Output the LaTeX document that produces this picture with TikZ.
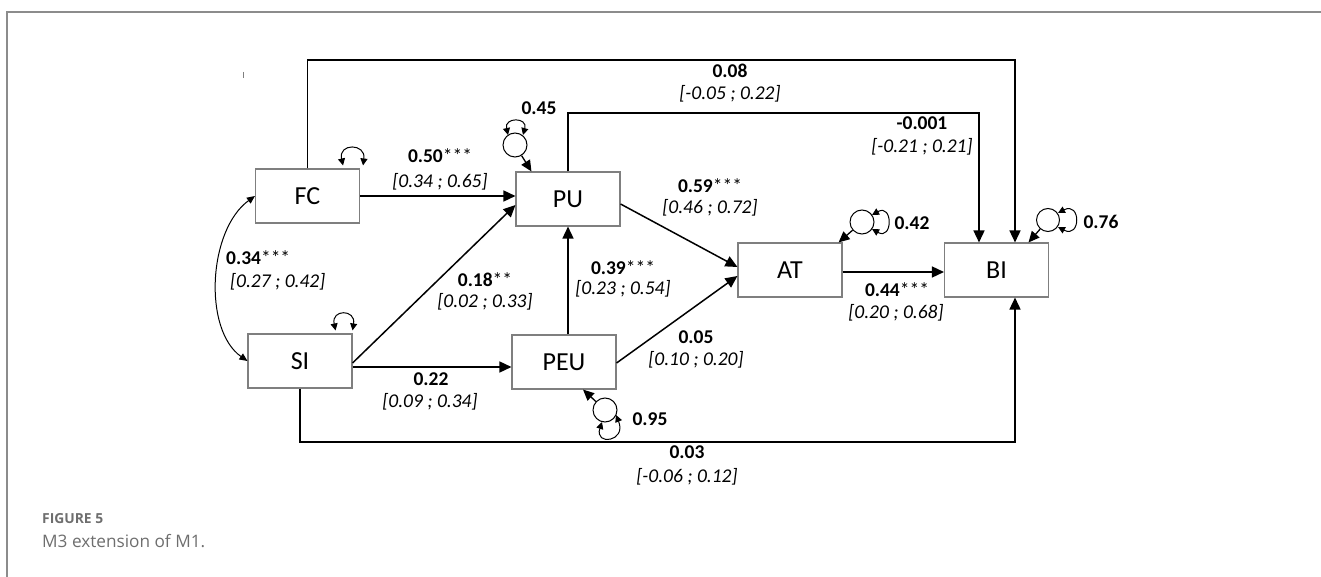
\documentclass[tikz,border=0pt]{standalone}
\usepackage{fontspec}
\setmainfont{Carlito}
\newfontfamily\capfont{Open Sans}
\usetikzlibrary{arrows.meta,calc}
\definecolor{boxgray}{HTML}{7F7F7F}
\definecolor{framegray}{HTML}{8C8C8C}
\definecolor{capgray}{HTML}{6E6E6E}
\begin{document}
\begin{tikzpicture}[x=1pt,y=-1pt,
  box/.style={draw=boxgray,line width=1.1pt,minimum width=104pt,minimum height=54pt,inner sep=0pt,font=\fontsize{26}{30}\selectfont},
  conn/.style={line width=1.5pt,-{Triangle[length=12pt,width=11pt]}},
  lbl/.style={font=\fontsize{19.5}{22}\selectfont,inner sep=0pt},
  ci/.style={font=\fontsize{19.5}{22}\selectfont\itshape,inner sep=0pt},
  resid/.style={draw,line width=1pt,circle,minimum size=24pt,inner sep=0pt},
  loopar/.style={line width=1pt,{Triangle[length=7pt,width=7pt]}-{Triangle[length=7pt,width=7pt]}},
  covar/.style={line width=1pt,{Triangle[length=8pt,width=7pt]}-{Triangle[length=8pt,width=7pt]}},
  resar/.style={line width=1.3pt,-{Triangle[length=11pt,width=10pt]}},
]
\useasboundingbox (0,0) rectangle (1321,577);
% frame
\draw[framegray,line width=1.5pt] (1321,12) -- (7,12) -- (7,577);
\draw[boxgray,line width=0.8pt] (243,72) -- (243,78);

% boxes
\node[box] (FC) at (307.5,196) {FC};
\node[box] (PU) at (568,199) {PU};
\node[box] (SI) at (300,361) {SI};
\node[box] (PEU) at (564,362) {PEU};
\node[box] (AT) at (790,270) {AT};
\node[box] (BI) at (996.5,270) {BI};

% helper coordinates
\coordinate (topy) at (0,60);
\coordinate (puy) at (0,113);
\coordinate (siy) at (0,442);
\coordinate (fcbi) at ($(BI.north)+(18.5,0)$);
\coordinate (pubi) at ($(BI.north)+(-17.5,0)$);
\coordinate (sip) at ($(SI.east)+(0,6)$);

% paths
\draw[conn] (FC.east) -- (FC.east -| PU.west);
\draw[conn] ($(SI.east)+(0,2)$) -- ($(PU.west)+(0,6)$);
\draw[conn] (sip) -- (sip -| PEU.west);
\draw[conn] (PEU.north -| PU.south) -- (PU.south);
\draw[conn] ($(PU.east)+(0,5)$) -- ($(AT.west)+(0,-3)$);
\draw[conn] ($(PEU.east)+(0,1)$) -- ($(AT.west)+(0,6)$);
\draw[conn] ($(AT.east)+(0,2)$) -- ($(BI.west)+(0,2)$);
\draw[conn] (FC.north) -- (FC.north |- topy) -- (fcbi |- topy) -- (fcbi);
\draw[conn] (PU.north) -- (PU.north |- puy) -- (pubi |- puy) -- (pubi);
\draw[conn] (SI.south) -- (SI.south |- siy) -- (fcbi |- siy) -- (fcbi |- BI.south);

% covariance
\draw[covar] (SI.west) .. controls (203,330) and (208,230) .. (FC.west);

% residuals
\draw[loopar] ($(FC.north east)+(-17,-3)$) .. controls (338,143) and (366,143) .. ($(FC.north east)+(3,-3)$);
\draw[loopar] ($(SI.north east)+(-17,-3)$) .. controls (331,309) and (356,309) .. ($(SI.north east)+(0,-3)$);

\node[resid] (rPU) at (515,145) {};
\draw[resar] (rPU) -- ($(PU.north west)+(16,0)$);
\draw[loopar] ($(rPU)+(-7,-10)$) .. controls (504,117) and (528,117) .. ($(rPU)+(8,-10)$);

\node[resid] (rAT) at (862,222) {};
\draw[resar] (rAT) -- ($(AT.north east)+(-4,0)$);
\draw[loopar] ($(rAT)+(10,-7)$) .. controls (893,203) and (893,241) .. ($(rAT)+(10,7)$);

\node[resid,minimum size=23pt] (rBI) at (1048,220) {};
\draw[resar] (rBI) -- ($(BI.north)+(32,0)$);
\draw[loopar] ($(rBI)+(10,-7)$) .. controls (1081,201) and (1081,239) .. ($(rBI)+(10,7)$);

\node[resid] (rPEU) at (605,410) {};
\draw[resar] (rPEU) -- ($(PEU.south)+(19,0)$);
\draw[loopar] ($(rPEU)+(-3,12)$) .. controls (594,446) and (627,442) .. ($(rPEU)+(11,5)$);

% labels
\node[lbl] (l1) at (440,156) {\textbf{0.50}***};
\node[ci] (c1) at (440,182) {[0.34 ; 0.65]};
\node[lbl] (l2) at (485,280) {\textbf{0.18}**};
\node[ci] (c2) at (485,302) {[0.02 ; 0.33]};
\node[lbl] (l3) at (431,379) {\textbf{0.22}};
\node[ci] (c3) at (430,402) {[0.09 ; 0.34]};
\node[lbl] (l4) at (623,268) {\textbf{0.39}***};
\node[ci] (c4) at (623,289) {[0.23 ; 0.54]};
\node[lbl] (l5) at (710,186) {\textbf{0.59}***};
\node[ci] (c5) at (710,208) {[0.46 ; 0.72]};
\node[lbl] (l6) at (696,337) {\textbf{0.05}};
\node[ci] (c6) at (696,360) {[0.10 ; 0.20]};
\node[lbl] (l7) at (897,290) {\textbf{0.44}***};
\node[ci] (c7) at (896,313) {[0.20 ; 0.68]};
\node[lbl] (l8) at (730,71) {\textbf{0.08}};
\node[ci] (c8) at (730,94) {[-0.05 ; 0.22]};
\node[lbl] (l9) at (922,123) {\textbf{-0.001}};
\node[ci] (c9) at (922,147) {[-0.21 ; 0.21]};
\node[lbl] (l10) at (687,452) {\textbf{0.03}};
\node[ci] (c10) at (687,477) {[-0.06 ; 0.12]};
\node[lbl,anchor=west] (l11) at (226,258) {\textbf{0.34}***};
\node[ci,anchor=west] (c11) at (230,282) {[0.27 ; 0.42]};
\node[lbl] (l12) at (539,108) {\textbf{0.45}};
\node[lbl] (l13) at (912,223) {\textbf{0.42}};
\node[lbl] (l14) at (1101,222) {\textbf{0.76}};
\node[lbl] (l15) at (650,419) {\textbf{0.95}};

% caption
\node[anchor=west,inner sep=0pt,text=capgray] (cap1) at (42,519) {\resizebox{61pt}{!}{\capfont\bfseries FIGURE 5}};
\node[anchor=west,inner sep=0pt,text=capgray] (cap2) at (42,541) {\resizebox{163pt}{!}{\capfont M3 extension of M1.}};
\end{tikzpicture}
\end{document}
